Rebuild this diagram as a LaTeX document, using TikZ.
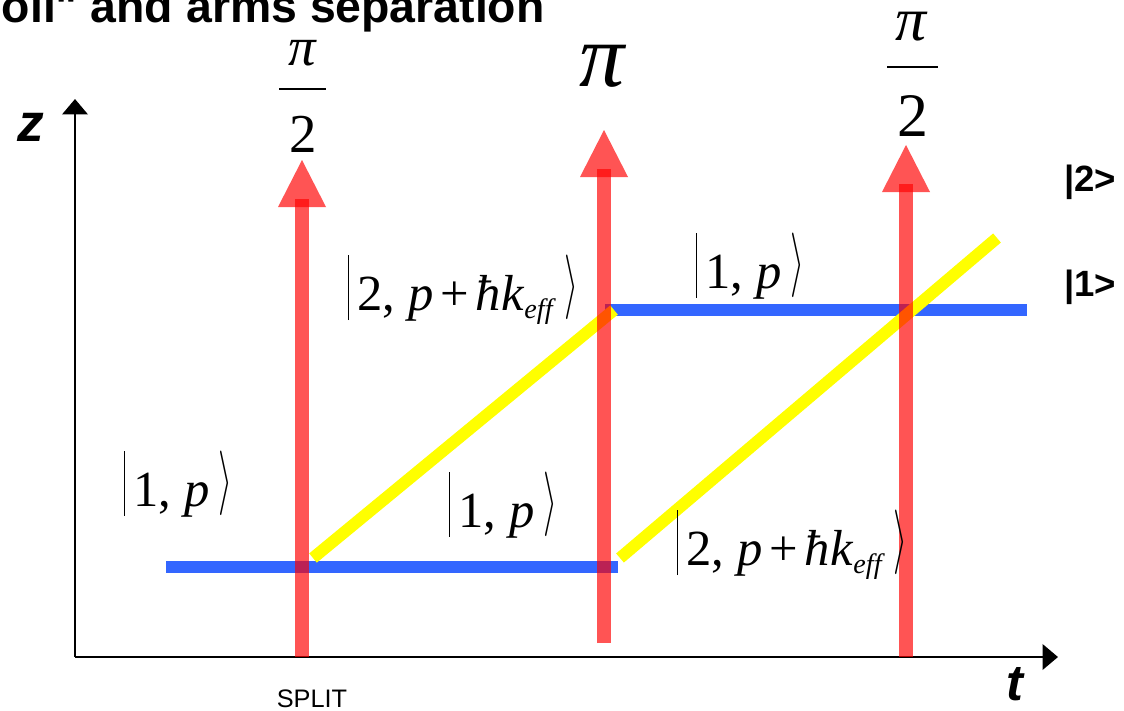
\documentclass[tikz,border=0pt]{standalone}
\usepackage{fontspec}
\usepackage{graphicx}
\setmainfont{Liberation Serif}
\newfontfamily\arial{Liberation Sans}
\usetikzlibrary{arrows.meta}
\definecolor{pulsered}{RGB}{255,0,0}
\definecolor{levelblue}{RGB}{51,102,255}
\definecolor{armyellow}{RGB}{255,255,0}

\newcommand{\ketof}[1]{\rule[-7pt]{0.9pt}{46pt}\,#1\,\raisebox{-7pt}{\resizebox{10pt}{46pt}{\raisebox{\depth}{$\rangle$}}}}
\newcommand{\effsub}{\raisebox{-6pt}{\fontsize{20}{22}\selectfont\textit{eff}}}

\tikzset{
  axis/.style={line width=2.1pt,-{Triangle[length=11pt,width=18pt]}},
  level/.style={levelblue,line width=8.5pt},
  arm/.style={armyellow,line width=8.5pt},
  pulse/.style={pulsered,opacity=0.67,line width=10.6pt},
  pulsehead/.style={fill=pulsered,opacity=0.67},
  fracbar/.style={line width=1.4pt},
  ket/.style={inner sep=0pt,font=\fontsize{36}{44}\selectfont},
  sanslbl/.style={inner sep=0pt,font=\arial\bfseries\fontsize{26}{30}\selectfont},
}

\begin{document}
\begin{tikzpicture}[x=0.025cm,y=-0.025cm]
\useasboundingbox (0,0) rectangle (1124,710);

% title, cut at the top
\node[anchor=base east,inner sep=0pt,font=\arial\bfseries\fontsize{33}{36}\selectfont] (title) at (545,22) {oil" and arms separation};

% axes
\coordinate (o) at (75,657);
\coordinate (ztip) at (75,99);
\coordinate (ttip) at (1058,657);
\draw[axis] (o) -- (ztip);
\draw[axis] (o) -- (ttip);
\node[inner sep=0pt,font=\arial\bfseries\itshape\fontsize{38}{40}\selectfont] (zlab) at (31,127) {z};
\node[inner sep=0pt,font=\arial\bfseries\itshape\fontsize{36}{40}\selectfont] (tlab) at (1015,684) {t};

% internal levels (blue) and moving arm (yellow)
\coordinate (lo0) at (166,567);
\coordinate (lo1) at (618,567);
\coordinate (hi0) at (605,310);
\coordinate (hi1) at (1027,310);
\draw[level] (lo0) -- (lo1);
\draw[level] (hi0) -- (hi1);
\coordinate (a0) at (313,558);
\coordinate (a1) at (614,310);
\coordinate (b0) at (620,558);
\coordinate (b1) at (997,238);
\draw[arm] (a0) -- (a1);
\draw[arm] (b0) -- (b1);

% laser pulses
\foreach \n/\x/\b/\h/\t in {1/302/657/207/160, 2/604/643/177/130, 3/906/657/192/145}{
  \coordinate (p\n b) at (\x,\b);
  \coordinate (p\n t) at (\x,\h-8);
  \draw[pulse] (p\n b) -- (p\n t);
  \fill[pulsehead] (\x-24,\h) -- (\x+24,\h) -- (\x,\t) -- cycle;
}

% pulse areas
\node[inner sep=0pt,font=\fontsize{39}{44}\selectfont] (pi1) at (303,53) {\textit{π}};
\node[inner sep=0pt,font=\fontsize{39}{44}\selectfont] (two1) at (303,134) {2};
\draw[fracbar] (279,89) -- (326,89);
\node[inner sep=0pt,font=\fontsize{64}{70}\selectfont] (full) at (603,66) {\textit{π}};
\node[inner sep=0pt,font=\fontsize{44}{50}\selectfont] (pi3) at (912,27) {\textit{π}};
\node[inner sep=0pt,font=\fontsize{44}{50}\selectfont] (two3) at (913,116) {2};
\draw[fracbar] (887,67) -- (938,67);

% states
\node[ket] (k1) at (178,484) {\ketof{1, \textit{p}}};
\node[ket] (k2) at (463,290) {\ketof{2, \textit{p}\hspace{5pt}+\hspace{5pt}\textit{ħk}\effsub}};
\node[ket] (k3) at (750,266) {\ketof{1, \textit{p}}};
\node[ket] (k4) at (503,505) {\ketof{1, \textit{p}}};
\node[ket] (k5) at (792,545) {\ketof{2, \textit{p}\hspace{5pt}+\hspace{5pt}\textit{ħk}\effsub}};

\node[sanslbl] (s2) at (1090,182) {|2>};
\node[sanslbl] (s1) at (1090,287) {|1>};
\node[inner sep=0pt,font=\arial\fontsize{18}{20}\selectfont] (split) at (312,699) {SPLIT};
\end{tikzpicture}
\end{document}
